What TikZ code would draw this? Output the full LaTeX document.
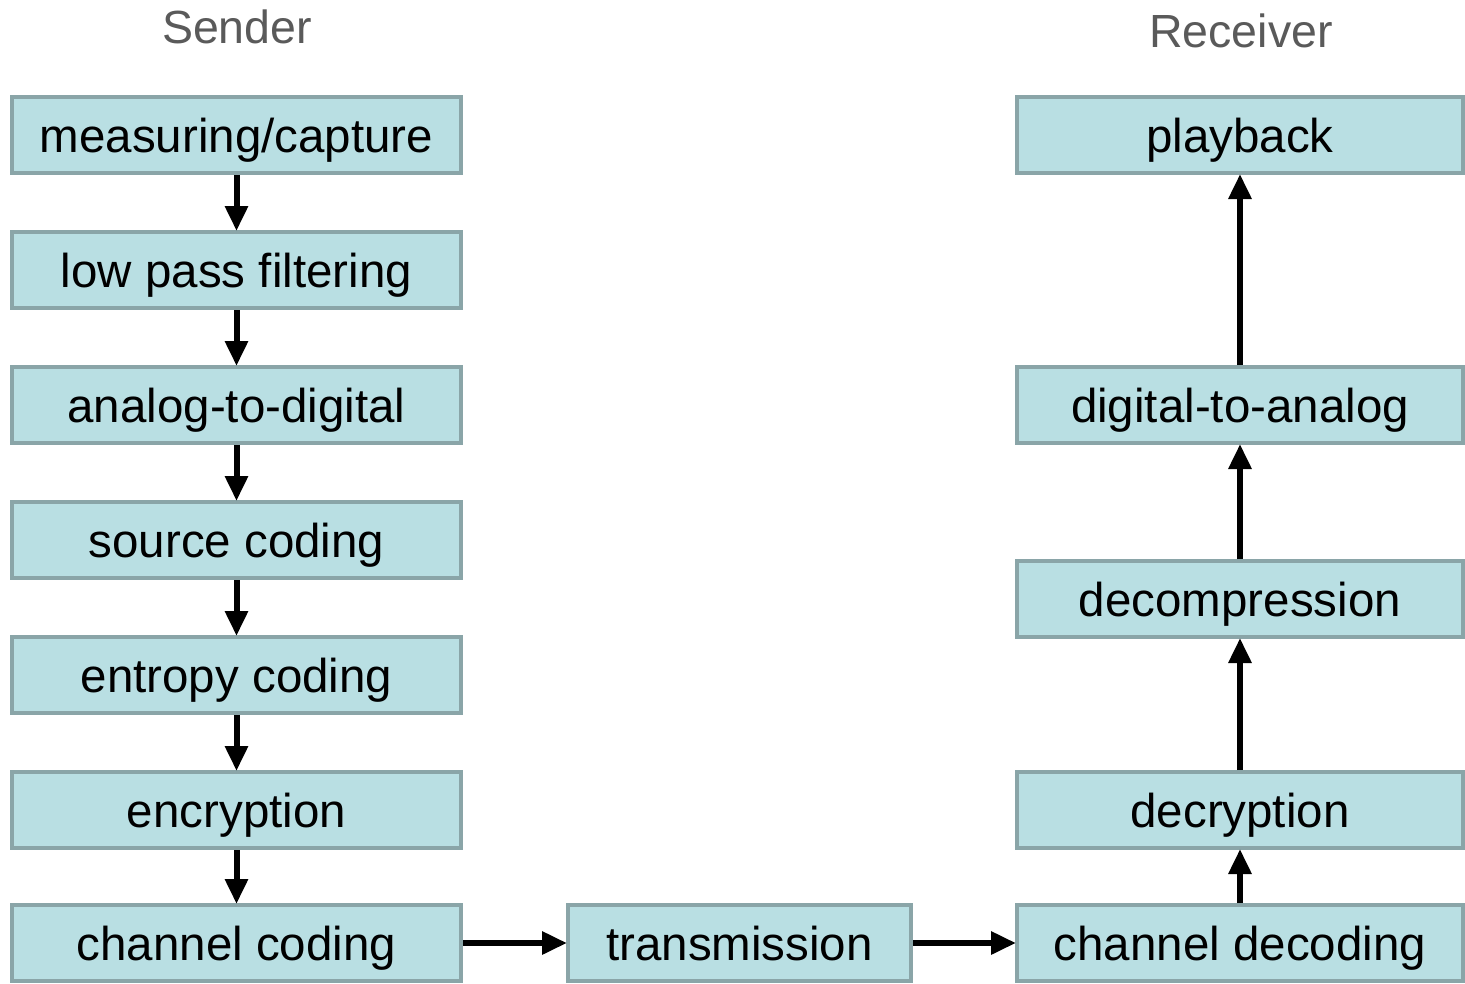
\documentclass[tikz,border=0pt]{standalone}
\usepackage{fontspec}
\setmainfont{Liberation Sans}
\usetikzlibrary{arrows.meta}
\definecolor{boxfill}{RGB}{185,223,227}
\definecolor{boxline}{RGB}{138,165,168}
\definecolor{headgray}{RGB}{90,90,90}
\tikzset{
  stage/.style={draw=boxline, fill=boxfill, line width=4pt, inner sep=0pt,
    minimum width=449pt, minimum height=76pt,
    font=\fontsize{47.5}{57}\selectfont, text height=35.6pt, text depth=0pt},
  head/.style={font=\fontsize{46.5}{56}\selectfont, text=headgray,
    text height=35pt, text depth=0pt},
  flow/.style={line width=6pt, -{Triangle[width=22pt,length=25pt]}, shorten >=-1pt}
}
\begin{document}
\begin{tikzpicture}[x=1pt, y=-1pt]
  \clip (0,0) rectangle (1465,983);
  \fill[white] (0,0) rectangle (1465,983);

  % column headings
  \node[head] (snd) at (237,26) {Sender};
  \node[head] (rcv) at (1241,30) {Receiver};

  % sender chain
  \node[stage] (meas) at (236.5,135) {measuring/capture};
  \node[stage] (lowp) at (236.5,270) {low pass filtering};
  \node[stage] (adc)  at (236.5,405) {analog-to-digital};
  \node[stage] (src)  at (236.5,540) {source coding};
  \node[stage] (ent)  at (236.5,675) {entropy coding};
  \node[stage] (enc)  at (236.5,810) {encryption};
  \node[stage] (chc)  at (236.5,943) {channel coding};

  % channel
  \node[stage, minimum width=343pt] (tx) at (739.5,943) {transmission};

  % receiver chain
  \node[stage, minimum width=446pt] (chd)  at (1240,943) {channel decoding};
  \node[stage, minimum width=446pt] (decr) at (1240,810) {decryption};
  \node[stage, minimum width=446pt] (dcmp) at (1240,599) {decompression};
  \node[stage, minimum width=446pt] (dac)  at (1240,405) {digital-to-analog};
  \node[stage, minimum width=446pt] (play) at (1240,135) {playback};

  % connectors
  \draw[flow] (meas.south) -- (lowp.north);
  \draw[flow] (lowp.south) -- (adc.north);
  \draw[flow] (adc.south)  -- (src.north);
  \draw[flow] (src.south)  -- (ent.north);
  \draw[flow] (ent.south)  -- (enc.north);
  \draw[flow] (enc.south)  -- (chc.north);
  \draw[flow] (chc.east)   -- (tx.west);
  \draw[flow] (tx.east)    -- (chd.west);
  \draw[flow] (chd.north)  -- (decr.south);
  \draw[flow] (decr.north) -- (dcmp.south);
  \draw[flow] (dcmp.north) -- (dac.south);
  \draw[flow] (dac.north)  -- (play.south);
\end{tikzpicture}
\end{document}
